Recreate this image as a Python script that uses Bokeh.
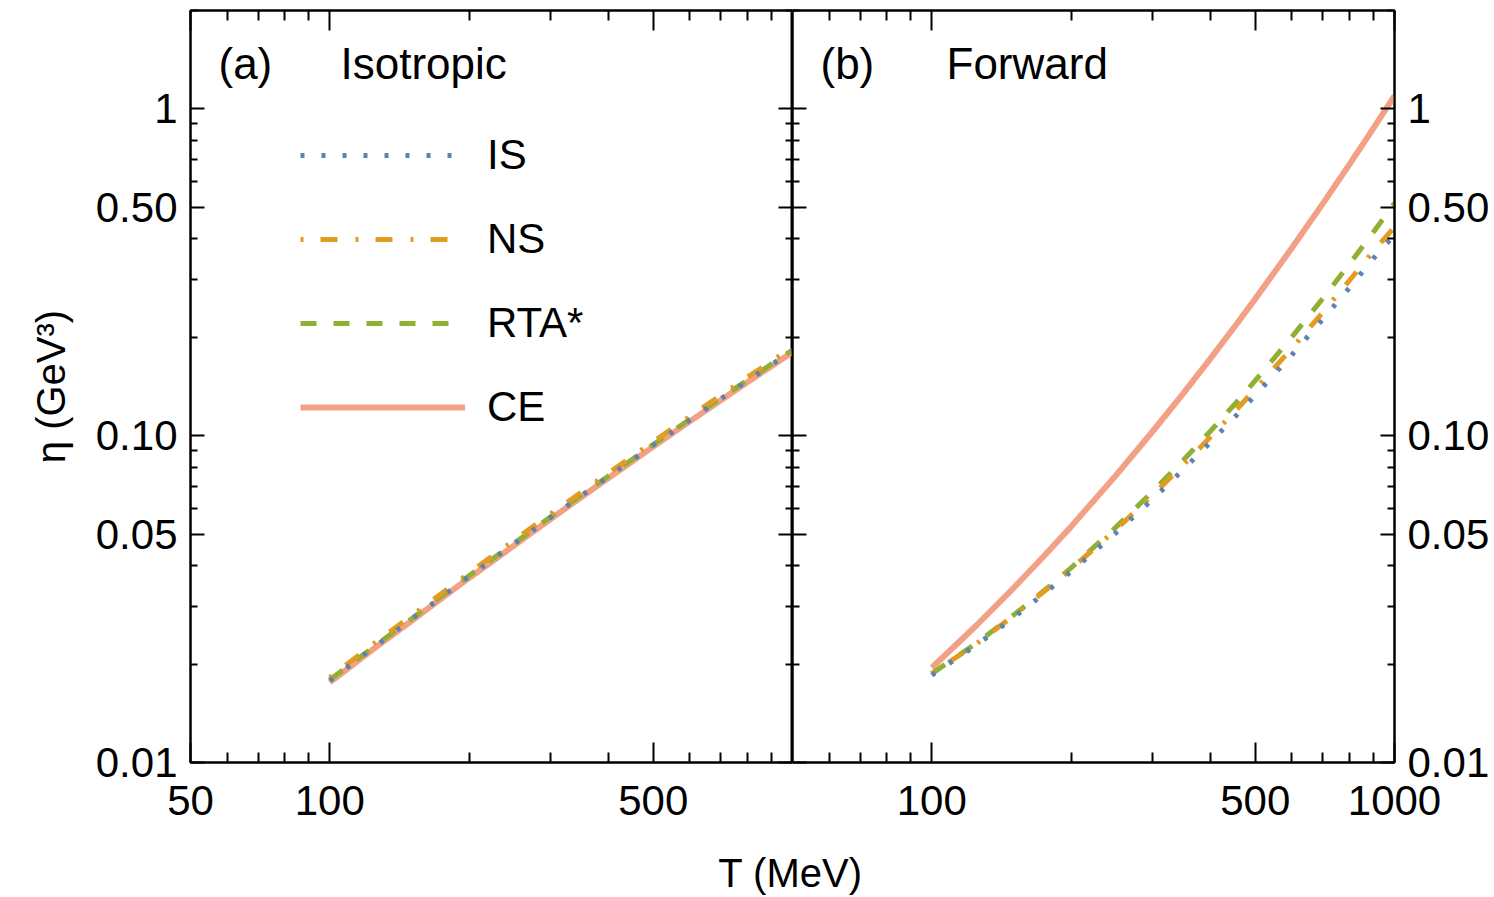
from bokeh.plotting import figure
from bokeh.models import LogAxis, FixedTicker, Legend, Label, Range1d
from bokeh.layouts import column, row
from bokeh.embed import file_html
from bokeh.resources import INLINE

# ---------------- data ----------------
T = [100, 125, 150, 175, 200, 250, 300, 350, 400, 450, 500, 600, 700, 800, 900, 1000]

# (a) Isotropic
iso_IS = [0.0178, 0.0226, 0.0274, 0.0322, 0.0371, 0.0466, 0.0562, 0.0656, 0.0749, 0.0842,
          0.0935, 0.1117, 0.1297, 0.1474, 0.1647, 0.1820]
iso_NS = [0.0182, 0.0232, 0.0281, 0.0330, 0.0380, 0.0478, 0.0576, 0.0672, 0.0768, 0.0863,
          0.0958, 0.1145, 0.1329, 0.1511, 0.1688, 0.1866]
iso_RTA = [0.0179, 0.0227, 0.0275, 0.0324, 0.0373, 0.0468, 0.0565, 0.0659, 0.0753, 0.0846,
           0.0940, 0.1123, 0.1303, 0.1481, 0.1655, 0.1829]
iso_CE = [0.0176, 0.0224, 0.0271, 0.0319, 0.0367, 0.0461, 0.0556, 0.0649, 0.0742, 0.0834,
          0.0926, 0.1106, 0.1284, 0.1459, 0.1631, 0.1802]

# (b) Forward
fw_IS = [0.0185, 0.0229, 0.0277, 0.0329, 0.0384, 0.0504, 0.0639, 0.0789, 0.0954, 0.1134,
         0.1329, 0.1768, 0.2271, 0.2842, 0.3483, 0.4120]
fw_NS = [0.0187, 0.0231, 0.0281, 0.0334, 0.0391, 0.0516, 0.0658, 0.0815, 0.0990, 0.1180,
         0.1388, 0.1850, 0.2385, 0.2990, 0.3670, 0.4350]
fw_RTA = [0.0187, 0.0232, 0.0282, 0.0336, 0.0394, 0.0525, 0.0674, 0.0843, 0.1032, 0.1241,
          0.1473, 0.2004, 0.2630, 0.3357, 0.4192, 0.5140]
fw_CE = [0.0195, 0.0263, 0.0341, 0.0429, 0.0527, 0.0756, 0.1030, 0.1350, 0.1721, 0.2144,
         0.2622, 0.3752, 0.5129, 0.6776, 0.8712, 1.0960]

series_names = ["IS", "NS", "RTA*", "CE"]

x_major_left = [50, 100, 500]
x_major_right = [100, 500, 1000]
x_minor = [60, 70, 80, 90, 200, 300, 400, 600, 700, 800, 900]
x_labels = {50: "50", 100: "100", 500: "500", 1000: "1000"}
y_major = [0.01, 0.05, 0.1, 0.5, 1]
y_minor = [0.02, 0.03, 0.04, 0.06, 0.07, 0.08, 0.09,
           0.2, 0.3, 0.4, 0.6, 0.7, 0.8, 0.9, 2]
y_labels = {0.01: "0.01", 0.05: "0.05", 0.1: "0.10", 0.5: "0.50", 1: "1"}

# ---------------- style ----------------
FONT = "Liberation Sans"
styles = {
    "IS": dict(color="#5E81B5", width=5, dash="4 17"),
    "NS": dict(color="#E19C24", width=5, dash="3 17 17 18"),
    "RTA*": dict(color="#8FB032", width=5, dash="16 17"),
    "CE": dict(color="#F3A186", width=6, dash="solid"),
}


def style_axis(ax, major, minor, is_x, labels=True, overrides=None):
    ax.ticker = FixedTicker(ticks=major, minor_ticks=minor)
    ax.major_tick_in = 20 if is_x else 14
    ax.major_tick_out = 0
    ax.minor_tick_in = 10 if is_x else 7
    ax.minor_tick_out = 0
    ax.axis_line_width = 2
    ax.axis_line_color = "black"
    ax.major_tick_line_width = 2
    ax.minor_tick_line_width = 2
    ax.major_tick_line_color = "black"
    ax.minor_tick_line_color = "black"
    ax.major_label_text_font = FONT
    ax.major_label_text_color = "black"
    if labels:
        ax.major_label_text_font_size = "42px"
        ax.major_label_standoff = 23 if is_x else 13
        if overrides:
            ax.major_label_overrides = overrides
    else:
        ax.major_label_text_font_size = "0px"
        ax.major_label_standoff = 0
        ax.major_label_overrides = {t: "" for t in major}


def make_fig(xmajor, ylabel_side, left_border, right_border):
    p = figure(x_axis_type="log", y_axis_type="log",
               x_range=Range1d(50, 1000), y_range=Range1d(0.01, 2),
               frame_width=602, frame_height=752,
               y_axis_location=ylabel_side,
               output_backend="svg", toolbar_location=None,
               min_border_left=left_border, min_border_right=right_border,
               min_border_top=10, min_border_bottom=72)
    p.xgrid.visible = False
    p.ygrid.visible = False
    p.outline_line_color = "black"
    p.outline_line_width = 2
    p.background_fill_color = "white"
    p.border_fill_color = "white"
    style_axis(p.xaxis[0], xmajor, x_minor, True, True, x_labels)
    style_axis(p.yaxis[0], y_major, y_minor, False, True, y_labels)
    top = LogAxis()
    style_axis(top, xmajor, x_minor, True, labels=False)
    p.add_layout(top, "above")
    other = LogAxis()
    style_axis(other, y_major, y_minor, False, labels=False)
    p.add_layout(other, "right" if ylabel_side == "left" else "left")
    return p


def add_lines(p, data):
    rs = {}
    for name in ["CE", "RTA*", "NS", "IS"]:
        s = styles[name]
        rs[name] = p.line(T, data[name], line_color=s["color"], line_width=s["width"],
                          line_dash=s["dash"])
    return rs


p1 = make_fig(x_major_left, "left", 190, 0)
p2 = make_fig(x_major_right, "right", 0, 90)

yax = p1.yaxis[0]
yax.axis_label = "η (GeV³)"
yax.axis_label_text_font = FONT
yax.axis_label_text_font_size = "40px"
yax.axis_label_text_font_style = "normal"
yax.axis_label_text_color = "black"
yax.axis_label_standoff = 20

r1 = add_lines(p1, {"IS": iso_IS, "NS": iso_NS, "RTA*": iso_RTA, "CE": iso_CE})
r2 = add_lines(p2, {"IS": fw_IS, "NS": fw_NS, "RTA*": fw_RTA, "CE": fw_CE})

legend = Legend(items=[(n, [r1[n]]) for n in series_names], location=(110, 330))
legend.glyph_width = 165
legend.glyph_height = 50
legend.label_height = 50
legend.spacing = 34
legend.label_standoff = 22
legend.padding = 0
legend.margin = 0
legend.border_line_alpha = 0
legend.background_fill_alpha = 0
legend.label_text_font = FONT
legend.label_text_font_size = "42px"
legend.label_text_color = "black"
p1.add_layout(legend)

for p, tag, title, tx in [(p1, "(a)", "Isotropic", 150), (p2, "(b)", "Forward", 154)]:
    p.add_layout(Label(x=28, y=699, x_units="screen", y_units="screen", text=tag,
                       text_font=FONT, text_font_size="44px", text_color="black",
                       text_baseline="middle", text_align="left"))
    p.add_layout(Label(x=tx, y=699, x_units="screen", y_units="screen", text=title,
                       text_font=FONT, text_font_size="44px", text_color="black",
                       text_baseline="middle", text_align="left"))

# bottom strip with the shared x-axis title
p3 = figure(width=1489, height=62, x_range=Range1d(0, 1), y_range=Range1d(0, 1),
            x_axis_location=None, y_axis_location=None,
            output_backend="svg", toolbar_location=None, min_border=0)
p3.xgrid.visible = False
p3.ygrid.visible = False
p3.outline_line_color = None
p3.add_layout(Label(x=790, y=24, x_units="screen", y_units="screen", text="T (MeV)",
                    text_font=FONT, text_font_size="40px", text_color="black",
                    text_baseline="middle", text_align="center"))

layout = column(row(p1, p2), p3)
open("out.html", "w").write(file_html(layout, INLINE))
